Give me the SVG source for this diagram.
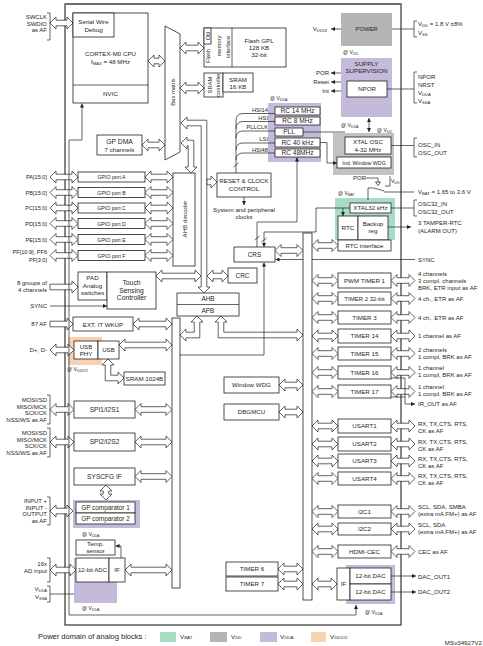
<svg xmlns="http://www.w3.org/2000/svg" width="483" height="646" viewBox="0 0 483 646">
<defs>
<style>
.b{fill:#fff;stroke:#231f20;stroke-width:0.8}
.a{fill:#fff;stroke:#231f20;stroke-width:0.7}
.ln{fill:none;stroke:#231f20;stroke-width:0.7}
.ar{fill:none;stroke:#231f20;stroke-width:0.7;marker-end:url(#ah)}
text{font-family:"Liberation Sans",Arial,sans-serif;fill:#231f20}
.t{font-size:6.2px;text-anchor:middle}
.l{font-size:6px;text-anchor:end}
.e{font-size:6px;text-anchor:start}
.s{font-size:5px}
.g{font-size:5.2px}
.pu{fill:#c4bbdb}
.gr{fill:#b5b5b5}
.gn{fill:#a8dcc5}
.or{fill:#f8d2b0}
</style>
<marker id="ah" viewBox="0 0 6 6" refX="6" refY="3" markerWidth="4" markerHeight="4" markerUnits="userSpaceOnUse" orient="auto"><path d="M0,0L6,3L0,6z" fill="#231f20"/></marker>
</defs>
<rect width="483" height="646" fill="#fff"/>
<rect x="65" y="4" width="336" height="621" fill="none" stroke="#333" stroke-width="1.2"/>
<line x1="65" y1="4" x2="401" y2="4" stroke="#666" stroke-width="1.6"/>

<!-- domain backgrounds -->
<rect class="gr" x="341" y="13" width="51" height="33"/>
<rect class="pu" x="341" y="58" width="51" height="59"/>
<rect class="pu" x="268" y="103" width="53" height="59"/>
<rect class="gr" x="333" y="133" width="61" height="42" style="fill:#c2c2c2"/>
<rect class="gn" x="335" y="198" width="60" height="42"/>
<rect class="or" x="68" y="337" width="34" height="28"/>
<rect class="pu" x="73" y="500" width="67" height="28"/>
<rect class="pu" x="74" y="558" width="43" height="45"/>
<rect class="pu" x="346" y="565" width="49" height="39"/>

<g id="connectors">
<!-- left external arrows -->
<path class="a" d="M50,23 l6,-6 v3.2 h11 v-3.2 l6,6 l-6,6 v-3.2 h-11 v3.2 z"/>
<path class="a" d="M50,177 l6,-6 v3.2 h16 v-3.2 l6,6 l-6,6 v-3.2 h-16 v3.2 z"/>
<path class="a" d="M50,192.5 l6,-6 v3.2 h16 v-3.2 l6,6 l-6,6 v-3.2 h-16 v3.2 z"/>
<path class="a" d="M50,208 l6,-6 v3.2 h16 v-3.2 l6,6 l-6,6 v-3.2 h-16 v3.2 z"/>
<path class="a" d="M50,223.5 l6,-6 v3.2 h16 v-3.2 l6,6 l-6,6 v-3.2 h-16 v3.2 z"/>
<path class="a" d="M50,239.5 l6,-6 v3.2 h16 v-3.2 l6,6 l-6,6 v-3.2 h-16 v3.2 z"/>
<path class="a" d="M50,255.5 l6,-6 v3.2 h16 v-3.2 l6,6 l-6,6 v-3.2 h-16 v3.2 z"/>
<path class="a" d="M50,284.2 h22 v-3.2 l6,6 l-6,6 v-3.2 h-22 z"/>
<path class="ar" d="M50,306 H107"/>
<path class="a" d="M50,321.2 h17 v-3.2 l6,6 l-6,6 v-3.2 h-17 z"/>
<path class="a" d="M50,350 l6,-6 v3.2 h12 v-3.2 l6,6 l-6,6 v-3.2 h-12 v3.2 z"/>
<path class="a" d="M50,409.5 l6,-6 v3.2 h12 v-3.2 l6,6 l-6,6 v-3.2 h-12 v3.2 z"/>
<path class="a" d="M50,442 l6,-6 v3.2 h12 v-3.2 l6,6 l-6,6 v-3.2 h-12 v3.2 z"/>
<path class="a" d="M50,511 l6,-6 v3.2 h11 v-3.2 l6,6 l-6,6 v-3.2 h-11 v3.2 z"/>
<path class="a" d="M50,570 l6,-6 v3.2 h14 v-3.2 l6,6 l-6,6 v-3.2 h-14 v3.2 z"/>
<path class="ln" d="M50,594 H74"/>
<!-- brackets left -->
<path class="ln" d="M47,13 H50 V40 H47"/>
<path class="ln" d="M47,395 H50 V424 H47"/>
<path class="ln" d="M47,428 H50 V457 H47"/>
<path class="ln" d="M47,497 H50 V525 H47"/>
<path class="ln" d="M47,558 H50 V582 H47"/>
<path class="ln" d="M47,586 H50 V602 H47"/>

<!-- CPU / DMA / bus matrix -->
<path class="a" d="M148,61 l6,-6 v3.2 h5 v-3.2 l6,6 l-6,6 v-3.2 h-5 v3.2 z"/>
<path class="a" d="M142,145 l6,-6 v3.2 h11 v-3.2 l6,6 l-6,6 v-3.2 h-11 v3.2 z"/>
<path class="a" d="M180,48 l6,-6 v3.2 h12 v-3.2 l6,6 l-6,6 v-3.2 h-12 v3.2 z"/>
<path class="a" d="M180,88 l6,-6 v3.2 h12 v-3.2 l6,6 l-6,6 v-3.2 h-12 v3.2 z"/>
<path class="a" d="M181,143 L187,137 V140.2 H193.8 V167 H197 L191,173 L185,167 H188.2 V145.8 H187 V149 Z"/>
<path class="a" d="M181,123 L187,117 V120.2 H206.8 V287 H210 L204,293 L198,287 H201.2 V125.8 H187 V129 Z"/>
<path class="a" d="M207,179.2 h4 v-3.2 l6,6 l-6,6 v-3.2 h-4 z"/>
<path class="ln" d="M69,615 V140 H82"/>
<path class="ar" d="M82,140 V103.5"/>

<!-- GPIO to AHB decoder -->
<path class="a" d="M145,177 l6,-6 v3.2 h16 v-3.2 l6,6 l-6,6 v-3.2 h-16 v3.2 z"/>
<path class="a" d="M145,192.5 l6,-6 v3.2 h16 v-3.2 l6,6 l-6,6 v-3.2 h-16 v3.2 z"/>
<path class="a" d="M145,208 l6,-6 v3.2 h16 v-3.2 l6,6 l-6,6 v-3.2 h-16 v3.2 z"/>
<path class="a" d="M145,223.5 l6,-6 v3.2 h16 v-3.2 l6,6 l-6,6 v-3.2 h-16 v3.2 z"/>
<path class="a" d="M145,239.5 l6,-6 v3.2 h16 v-3.2 l6,6 l-6,6 v-3.2 h-16 v3.2 z"/>
<path class="a" d="M145,255.5 l6,-6 v3.2 h16 v-3.2 l6,6 l-6,6 v-3.2 h-16 v3.2 z"/>
<path class="a" d="M156,276 l6,-6 v3.2 h33 v-3.2 l6,6 l-6,6 v-3.2 h-33 v3.2 z"/>
<path class="a" d="M207,276 l6,-6 v3.2 h9 v-3.2 l6,6 l-6,6 v-3.2 h-9 v3.2 z"/>

<!-- APB outputs -->
<path class="a" d="M197,316 L203,322 H199.8 V337.8 H186 V341 L180,335 L186,329 V332.2 H194.2 V322 H191 Z"/>
<path class="a" d="M221,316 L227,322 H223.8 V332.2 H297 V329 L303,335 L297,341 V337.8 H218.2 V322 H215 Z"/>

<!-- left bar arrows -->
<path class="a" d="M133,324 l6,-6 v3.2 h27 v-3.2 l6,6 l-6,6 v-3.2 h-27 v3.2 z"/>
<path class="a" d="M119,345 l6,-6 v3.2 h41 v-3.2 l6,6 l-6,6 v-3.2 h-41 v3.2 z"/>
<path class="a" d="M108,359 L114,365 H110.8 V375.2 H118 V372 L124,378 L118,384 V380.8 H105.2 V365 H102 Z"/>
<path class="a" d="M135,409.5 l6,-6 v3.2 h25 v-3.2 l6,6 l-6,6 v-3.2 h-25 v3.2 z"/>
<path class="a" d="M135,442 l6,-6 v3.2 h25 v-3.2 l6,6 l-6,6 v-3.2 h-25 v3.2 z"/>
<path class="a" d="M135,476.5 l6,-6 v3.2 h25 v-3.2 l6,6 l-6,6 v-3.2 h-25 v3.2 z"/>
<path class="a" d="M106,485 l6,6 h-3.2 v3 h3.2 l-6,6 l-6,-6 h3.2 v-3 h-3.2 z"/>
<path class="a" d="M125,570 l6,-6 v3.2 h35 v-3.2 l6,6 l-6,6 v-3.2 h-35 v3.2 z"/>
<path class="ar" d="M121,558 V546 H115.5"/>

<!-- right bar arrows to central boxes -->
<path class="a" d="M275,250.5 l6,-6 v3.2 h16 v-3.2 l6,6 l-6,6 v-3.2 h-16 v3.2 z"/>
<path class="a" d="M279,385 l6,-6 v3.2 h12 v-3.2 l6,6 l-6,6 v-3.2 h-12 v3.2 z"/>
<path class="a" d="M279,412 l6,-6 v3.2 h12 v-3.2 l6,6 l-6,6 v-3.2 h-12 v3.2 z"/>
<path class="a" d="M278,569 l6,-6 v3.2 h13 v-3.2 l6,6 l-6,6 v-3.2 h-13 v3.2 z"/>
<path class="a" d="M278,584 l6,-6 v3.2 h13 v-3.2 l6,6 l-6,6 v-3.2 h-13 v3.2 z"/>

<!-- right bar to peripherals -->
<path class="a" d="M312,245.5 l6,-6 v3.2 h14 v-3.2 l6,6 l-6,6 v-3.2 h-14 v3.2 z"/>
<path class="a" d="M312,280.5 l6,-6 v3.2 h14 v-3.2 l6,6 l-6,6 v-3.2 h-14 v3.2 z"/>
<path class="a" d="M312,298.5 l6,-6 v3.2 h14 v-3.2 l6,6 l-6,6 v-3.2 h-14 v3.2 z"/>
<path class="a" d="M312,317.5 l6,-6 v3.2 h14 v-3.2 l6,6 l-6,6 v-3.2 h-14 v3.2 z"/>
<path class="a" d="M312,336 l6,-6 v3.2 h14 v-3.2 l6,6 l-6,6 v-3.2 h-14 v3.2 z"/>
<path class="a" d="M312,353.5 l6,-6 v3.2 h14 v-3.2 l6,6 l-6,6 v-3.2 h-14 v3.2 z"/>
<path class="a" d="M312,372.5 l6,-6 v3.2 h14 v-3.2 l6,6 l-6,6 v-3.2 h-14 v3.2 z"/>
<path class="a" d="M312,391.5 l6,-6 v3.2 h14 v-3.2 l6,6 l-6,6 v-3.2 h-14 v3.2 z"/>
<path class="a" d="M312,426 l6,-6 v3.2 h14 v-3.2 l6,6 l-6,6 v-3.2 h-14 v3.2 z"/>
<path class="a" d="M312,444 l6,-6 v3.2 h14 v-3.2 l6,6 l-6,6 v-3.2 h-14 v3.2 z"/>
<path class="a" d="M312,461 l6,-6 v3.2 h14 v-3.2 l6,6 l-6,6 v-3.2 h-14 v3.2 z"/>
<path class="a" d="M312,478.5 l6,-6 v3.2 h14 v-3.2 l6,6 l-6,6 v-3.2 h-14 v3.2 z"/>
<path class="a" d="M312,511.5 l6,-6 v3.2 h14 v-3.2 l6,6 l-6,6 v-3.2 h-14 v3.2 z"/>
<path class="a" d="M312,529 l6,-6 v3.2 h14 v-3.2 l6,6 l-6,6 v-3.2 h-14 v3.2 z"/>
<path class="a" d="M312,551.5 l6,-6 v3.2 h14 v-3.2 l6,6 l-6,6 v-3.2 h-14 v3.2 z"/>
<path class="a" d="M312,584 l6,-6 v3.2 h13 v-3.2 l6,6 l-6,6 v-3.2 h-13 v3.2 z"/>

<!-- peripherals to outside -->
<path class="a" d="M391,280.5 l6,-6 v3.2 h12 v-3.2 l6,6 l-6,6 v-3.2 h-12 v3.2 z"/>
<path class="a" d="M391,298.5 l6,-6 v3.2 h12 v-3.2 l6,6 l-6,6 v-3.2 h-12 v3.2 z"/>
<path class="a" d="M391,317.5 l6,-6 v3.2 h12 v-3.2 l6,6 l-6,6 v-3.2 h-12 v3.2 z"/>
<path class="a" d="M391,336 l6,-6 v3.2 h12 v-3.2 l6,6 l-6,6 v-3.2 h-12 v3.2 z"/>
<path class="a" d="M391,353.5 l6,-6 v3.2 h12 v-3.2 l6,6 l-6,6 v-3.2 h-12 v3.2 z"/>
<path class="a" d="M391,372.5 l6,-6 v3.2 h12 v-3.2 l6,6 l-6,6 v-3.2 h-12 v3.2 z"/>
<path class="a" d="M391,391.5 l6,-6 v3.2 h12 v-3.2 l6,6 l-6,6 v-3.2 h-12 v3.2 z"/>
<path class="a" d="M391,426 l6,-6 v3.2 h12 v-3.2 l6,6 l-6,6 v-3.2 h-12 v3.2 z"/>
<path class="a" d="M391,444 l6,-6 v3.2 h12 v-3.2 l6,6 l-6,6 v-3.2 h-12 v3.2 z"/>
<path class="a" d="M391,461 l6,-6 v3.2 h12 v-3.2 l6,6 l-6,6 v-3.2 h-12 v3.2 z"/>
<path class="a" d="M391,478.5 l6,-6 v3.2 h12 v-3.2 l6,6 l-6,6 v-3.2 h-12 v3.2 z"/>
<path class="a" d="M391,511.5 l6,-6 v3.2 h12 v-3.2 l6,6 l-6,6 v-3.2 h-12 v3.2 z"/>
<path class="a" d="M391,529 l6,-6 v3.2 h12 v-3.2 l6,6 l-6,6 v-3.2 h-12 v3.2 z"/>
<path class="a" d="M391,551.5 l6,-6 v3.2 h12 v-3.2 l6,6 l-6,6 v-3.2 h-12 v3.2 z"/>
<path class="ln" d="M391,378 H405 V404"/>
<path class="ln" d="M391,397 H405"/>
<path class="ar" d="M405,404 H415"/>
<path class="ar" d="M391,576 H416"/>
<path class="ar" d="M391,592 H416"/>
<path class="ln" d="M69,615 H356"/>
<path class="ar" d="M356,615 V605"/>

<!-- power / clocks lines -->
<path class="ar" d="M341,29 H331"/>
<path class="ar" d="M341,73 H331"/>
<path class="ar" d="M341,82 H331"/>
<path class="ar" d="M341,91 H331"/>
<path class="ln" d="M392,29 H414 M417,21 H414 V37 H417"/>
<path class="ln" d="M387,89 H414 M417,72 H414 V103 H417"/>
<path class="ln" d="M391,145.5 H414 M417,138 H414 V157 H417"/>
<path class="ln" d="M391,208 H414 M417,200 H414 V216 H417"/>
<path class="ar" d="M369,125 V118"/>
<path class="ar" d="M369,125 V132"/>
<path class="ln" d="M275,113.5 H243 Q236,113.5 236,121 V173"/>
<path class="ln" d="M275,121.5 H243 Q236,121.5 236,129"/>
<path class="ln" d="M275,131 H243 Q236,131 236,138"/>
<path class="ln" d="M275,143 H243 Q236,143 236,150"/>
<path class="ln" d="M275,153 H243 Q236,153 236,160"/>
<path class="ln" d="M233.5,167 L238.5,163"/>
<path class="ln" d="M303,132 H345"/>
<path class="ln" d="M320,142.5 H327 V163"/>
<path class="ar" d="M327,163 H337"/>
<path class="ar" d="M244,197 V205"/>
<path class="ln" d="M257,247 V222 H297"/>
<path class="ar" d="M297,222 V157.5"/>
<path class="ln" d="M254.5,240 L259.5,236"/>
<path class="ln" d="M350,208 H316 V232 H264"/>
<path class="ar" d="M264,232 V247"/>
<path class="ln" d="M261.5,242 L266.5,238"/>
<path class="ar" d="M343,208 V216"/>
<path class="ar" d="M388,227 H411"/>
<path class="ar" d="M415,259.5 H275.5"/>
<path class="ln" d="M180,355 H264"/>
<path class="ar" d="M264,355 V262.5"/>
<path class="ln" d="M366,178 H378"/>
<path class="ln" d="M378,178 V182"/>
<path class="a" d="M375.5,182 H380.5 L378,185.5 Z"/>
<path class="ln" d="M390,176 V186 H385"/>
<path class="ln" d="M368,200 V188 H374 L384,191"/>
<path class="ln" d="M384,192 H414"/>
</g>

<g id="bus-matrix"><path class="b" d="M165,26 L180,34 V152 L165,160 Z"/><text class="t" style="font-size:5.8px" transform="rotate(-90 174.5 92)" x="174.5" y="92">Bus matrix</text></g>
<g id="ahb-decoder"><rect class="b" x="173" y="173" width="22" height="93"/><text class="t" transform="rotate(-90 186.5 219)" x="186.5" y="219">AHB decoder</text></g>
<g id="left-bar"><rect class="b" x="172" y="318" width="8" height="270"/></g>
<g id="right-bar"><rect class="b" x="303" y="233" width="9" height="367"/></g>

<g id="cpu"><rect class="b" x="73" y="13" width="75" height="90"/><line class="ln" x1="73" y1="85" x2="148" y2="85"/>
<text class="t" x="110.5" y="55.5">CORTEX-M0 CPU</text>
<text class="t" x="110.5" y="63.5">f<tspan font-size="4.2" dy="1">MAX</tspan><tspan dy="-1"> = 48 MHz</tspan></text>
<text class="t" x="110.5" y="96">NVIC</text></g>
<g id="swd"><rect class="b" x="73" y="13" width="41" height="24"/><text class="t" x="93.5" y="24">Serial Wire</text><text class="t" x="93.5" y="31.5">Debug</text></g>
<g id="dma"><rect class="b" x="97" y="135" width="45" height="20"/><text class="t" x="119.5" y="144" style="font-size:6.8px">GP DMA</text><text class="t" x="119.5" y="151.5">7 channels</text></g>

<g id="flash"><rect class="b" x="204" y="28" width="82" height="39"/><line class="ln" x1="232" y1="28" x2="232" y2="67"/><rect class="b" x="204" y="28" width="7" height="16"/>
<text class="t" style="font-size:5.6px" transform="rotate(-90 209.5 36)" x="209.5" y="36">Obl</text>
<text class="t" style="font-size:5.8px" transform="rotate(-90 210 56)" x="210" y="56">Flash</text>
<text class="t" style="font-size:5.8px" transform="rotate(-90 221 46)" x="221" y="46">memory</text>
<text class="t" style="font-size:5.8px" transform="rotate(-90 229.5 47)" x="229.5" y="47">interface</text>
<text class="t" x="259" y="42.5">Flash GPL</text><text class="t" x="259" y="49.5">128 KB</text><text class="t" x="259" y="56.5">32-bit</text></g>
<g id="sram"><rect class="b" x="204" y="73" width="19" height="24"/><rect class="b" x="223" y="73" width="30" height="19"/>
<text class="t" style="font-size:5.8px" transform="rotate(-90 212 85)" x="212" y="85">SRAM</text><text class="t" style="font-size:5.8px" transform="rotate(-90 220 85)" x="220" y="85">controller</text>
<text class="t" x="238" y="81.5">SRAM</text><text class="t" x="238" y="88.5">16 KB</text></g>

<g id="power"><text class="t" x="366.5" y="31" style="font-size:5.8px">POWER</text>
<text class="l" x="327" y="31">V<tspan font-size="4" dy="1">DD18</tspan></text>
<text class="s" x="343" y="54">@ V<tspan font-size="3.6" dy="0.8">DD</tspan></text>
<text class="e" x="418" y="26">V<tspan font-size="4.2" dy="1">DD</tspan><tspan dy="-1"> = 1.8 V ±8%</tspan></text>
<text class="e" x="418" y="35">V<tspan font-size="4.2" dy="1">SS</tspan></text></g>

<g id="supply"><text class="t" x="366.5" y="65.5">SUPPLY</text><text class="t" x="366.5" y="73">SUPERVISION</text>
<rect class="b" x="347" y="81" width="40" height="16"/><text class="t" x="367" y="91.2">NPOR</text>
<text class="l" x="329" y="75">POR</text><text class="l" x="329" y="84">Reset</text><text class="l" x="329" y="93">Int</text>
<text class="e" x="418" y="79">NPOR</text><text class="e" x="418" y="87">NRST</text>
<text class="e" x="418" y="95">V<tspan font-size="4.2" dy="1">DDA</tspan></text>
<text class="e" x="418" y="103">V<tspan font-size="4.2" dy="1">SSA</tspan></text>
<text class="s" x="341" y="127">@ V<tspan font-size="3.6" dy="0.8">DDA</tspan></text>
<text class="s" x="377" y="132">@ V<tspan font-size="3.6" dy="0.8">DD</tspan></text></g>

<g id="rc-osc"><text class="s" x="270" y="100">@ V<tspan font-size="3.6" dy="0.8">DDA</tspan></text>
<rect class="b" x="275" y="107" width="45" height="8"/><text class="t" x="297.5" y="113.3" style="font-size:6.6px">RC 14 MHz</text>
<rect class="b" x="275" y="117" width="45" height="8"/><text class="t" x="297.5" y="123.3" style="font-size:6.6px">RC 8 MHz</text>
<rect class="b" x="275" y="128" width="28" height="8"/><text class="t" x="289" y="134.3" style="font-size:6.6px">PLL</text>
<rect class="b" x="275" y="138" width="45" height="9"/><text class="t" x="297.5" y="144.8" style="font-size:6.6px">RC 40 kHz</text>
<rect class="b" x="275" y="149" width="45" height="8"/><text class="t" x="297.5" y="155.3" style="font-size:6.6px">RC 48MHz</text>
<text class="l" style="font-size:5.8px" x="268" y="111.5">HSI14</text><text class="l" style="font-size:5.8px" x="268" y="119.5">HSI</text><text class="l" style="font-size:5.8px" x="268" y="129">PLLCLK</text><text class="l" style="font-size:5.8px" x="268" y="140.5">LSI</text><text class="l" style="font-size:5.8px" x="268" y="151.5">HSI48</text></g>

<g id="xtal"><rect class="b" x="345" y="137" width="46" height="17"/><text class="t" x="368" y="144">XTAL OSC</text><text class="t" x="368" y="151.5">4-32 MHz</text>
<rect class="b" x="337" y="157" width="54" height="11"/><text class="t" x="364" y="164.5" style="font-size:5.3px">Ind. Window WDG</text>
<text class="e" x="418" y="147">OSC_IN</text><text class="e" x="418" y="155">OSC_OUT</text></g>

<g id="rcc"><rect class="b" x="217" y="173" width="54" height="24"/><text class="t" x="244" y="183">RESET &amp; CLOCK</text><text class="t" x="244" y="190.5">CONTROL</text>
<text class="t" x="244" y="212">System and peripheral</text><text class="t" x="244" y="219">clocks</text></g>

<g id="rtc"><text class="l" x="366" y="180">POR</text><text class="s" x="391" y="183">V<tspan font-size="3.6" dy="0.8">DD</tspan></text>
<text class="s" x="338" y="195">@ V<tspan font-size="3.6" dy="0.8">BAT</tspan></text>
<text class="e" x="418" y="194">V<tspan font-size="4.2" dy="1">BAT</tspan><tspan dy="-1"> = 1.65 to 3.6 V</tspan></text>
<rect class="b" x="350" y="203" width="41" height="10"/><text class="t" x="370.5" y="210.2">XTAL32 kHz</text>
<rect class="b" x="338" y="216" width="20" height="24"/><text class="t" x="348" y="230">RTC</text>
<rect class="b" x="358" y="216" width="30" height="24"/><text class="t" x="373" y="225.5">Backup</text><text class="t" x="373" y="233">reg</text>
<rect class="b" x="338" y="240" width="53" height="11"/><text class="t" x="364.5" y="247.7">RTC interface</text>
<text class="e" x="418" y="206">OSC32_IN</text><text class="e" x="418" y="214">OSC32_OUT</text>
<text class="e" x="418" y="225">3 TAMPER-RTC</text><text class="e" x="418" y="233">(ALARM OUT)</text>
<text class="e" x="418" y="261.5">SYNC</text></g>

<g id="crs"><rect class="b" x="234" y="247" width="41" height="15"/><text class="t" x="254.5" y="256.7" style="font-size:6.4px">CRS</text></g>
<g id="crc"><rect class="b" x="228" y="268" width="29" height="15"/><text class="t" x="242.5" y="277.7" style="font-size:6.4px">CRC</text></g>
<g id="ahb-apb"><rect class="b" x="177" y="293" width="62" height="23"/><line class="ln" x1="177" y1="304.5" x2="239" y2="304.5"/><text class="t" x="208" y="301.2" style="font-size:6.4px">AHB</text><text class="t" x="208" y="312.7" style="font-size:6.4px">APB</text></g>

<g id="gpio"><rect class="b" x="78" y="172" width="67" height="10"/><text class="t g" x="111.5" y="179">GPIO port A</text>
<rect class="b" x="78" y="187.5" width="67" height="10"/><text class="t g" x="111.5" y="194.5">GPIO port B</text>
<rect class="b" x="78" y="203" width="67" height="10"/><text class="t g" x="111.5" y="210">GPIO port C</text>
<rect class="b" x="78" y="218.5" width="67" height="10"/><text class="t g" x="111.5" y="225.5">GPIO port D</text>
<rect class="b" x="78" y="234.5" width="67" height="10"/><text class="t g" x="111.5" y="241.5">GPIO port E</text>
<rect class="b" x="78" y="250.5" width="67" height="10"/><text class="t g" x="111.5" y="257.5">GPIO port F</text>
<text class="l" style="font-size:5.6px" x="47" y="179">PA[15:0]</text><text class="l" style="font-size:5.6px" x="47" y="194.5">PB[15:0]</text><text class="l" style="font-size:5.6px" x="47" y="210">PC[15:0]</text><text class="l" style="font-size:5.6px" x="47" y="225.5">PD[15:0]</text><text class="l" style="font-size:5.6px" x="47" y="241.5">PE[15:0]</text><text class="l" style="font-size:5.6px" x="47" y="254">PF[10:9], PF6</text><text class="l" style="font-size:5.6px" x="47" y="261.5">PF[3:0]</text>
<text class="l" x="47" y="19">SWCLK</text><text class="l" x="47" y="25.5">SWDIO</text><text class="l" x="47" y="32">as AF</text></g>

<g id="tsc"><rect class="b" x="78" y="272" width="29" height="28"/><text class="t" x="92.5" y="280">PAD</text><text class="t" x="92.5" y="287.5">Analog</text><text class="t" x="92.5" y="295">switches</text>
<rect class="b" x="107" y="272" width="49" height="37"/><text class="t" style="font-size:6.8px" x="131.5" y="285">Touch</text><text class="t" style="font-size:6.8px" x="131.5" y="292.5">Sensing</text><text class="t" style="font-size:6.8px" x="131.5" y="300">Controller</text>
<text class="l" x="47" y="285">8 groups of</text><text class="l" x="47" y="292">4 channels</text><text class="l" x="47" y="308">SYNC</text></g>

<g id="exti"><rect class="b" x="73" y="317" width="60" height="14"/><text class="t" x="103" y="326.5">EXT. IT  WKUP</text><text class="l" x="47" y="326.2">87 AF</text></g>
<g id="usb"><rect class="b" x="74" y="341" width="24" height="18"/><text class="t" x="86" y="348.5">USB</text><text class="t" x="86" y="356">PHY</text>
<rect class="b" x="98" y="341" width="21" height="18"/><text class="t" x="108.5" y="352.2">USB</text>
<text class="s" x="67" y="371">@ V<tspan font-size="3.6" dy="0.8">DDIO2</tspan></text>
<text class="l" x="47" y="352">D+, D-</text>
<rect class="b" x="124" y="372" width="41" height="13"/><text class="t" x="144.5" y="380.7">SRAM 1024B</text></g>

<g id="spi"><rect class="b" x="74" y="401" width="61" height="17"/><text class="t" style="font-size:6.6px" x="104.5" y="411.8">SPI1/I2S1</text>
<rect class="b" x="74" y="433" width="61" height="18"/><text class="t" style="font-size:6.6px" x="104.5" y="444.3">SPI2/I2S2</text>
<text class="l" x="47" y="402">MOSI/SD</text><text class="l" x="47" y="408.5">MISO/MCK</text><text class="l" x="47" y="415">SCK/CK</text><text class="l" x="47" y="421.5">NSS/WS as AF</text>
<text class="l" x="47" y="435">MOSI/SD</text><text class="l" x="47" y="441.5">MISO/MCK</text><text class="l" x="47" y="448">SCK/CK</text><text class="l" x="47" y="454.5">NSS/WS as AF</text></g>
<g id="syscfg"><rect class="b" x="74" y="468" width="61" height="17"/><text class="t" style="font-size:6.6px" x="104.5" y="478.8">SYSCFG IF</text></g>
<g id="comp"><rect class="b" x="76" y="502" width="59" height="11"/><text class="t" style="font-size:6.4px" x="105.5" y="509.7">GP comparator 1</text>
<rect class="b" x="76" y="513" width="59" height="11"/><text class="t" style="font-size:6.4px" x="105.5" y="520.7">GP comparator 2</text>
<text class="s" x="82" y="536">@ V<tspan font-size="3.6" dy="0.8">DDA</tspan></text>
<text class="l" x="47" y="503">INPUT +</text><text class="l" x="47" y="509.5">INPUT -</text><text class="l" x="47" y="516">OUTPUT</text><text class="l" x="47" y="522.5">as AF</text></g>
<g id="adc"><rect class="b" x="76" y="540" width="39" height="15"/><text class="t" x="95.5" y="546.3">Temp.</text><text class="t" x="95.5" y="553.3">sensor</text>
<rect class="b" x="76" y="558" width="33" height="24"/><text class="t" style="font-size:6px" x="92.5" y="572">12-bit ADC</text>
<rect class="b" x="109" y="558" width="16" height="24"/><text class="t" x="117" y="572.2">IF</text>
<text class="s" x="82" y="610">@ V<tspan font-size="3.6" dy="0.8">DDA</tspan></text>
<text class="l" x="47" y="566">16x</text><text class="l" x="47" y="573">AD input</text>
<text class="l" x="47" y="591">V<tspan font-size="4" dy="1">DDA</tspan></text><text class="l" x="47" y="599">V<tspan font-size="4" dy="1">SSA</tspan></text></g>

<g id="wdg"><rect class="b" x="224" y="377" width="55" height="16"/><text class="t" x="251.5" y="387.2">Window WDG</text>
<rect class="b" x="224" y="404" width="55" height="16"/><text class="t" x="251.5" y="414.2">DBGMCU</text></g>
<g id="tim67"><rect class="b" x="226" y="562" width="52" height="14"/><text class="t" x="252" y="571.2">TIMER 6</text>
<rect class="b" x="226" y="577" width="52" height="14"/><text class="t" x="252" y="586.2">TIMER 7</text></g>

<g id="timers"><rect class="b" x="338" y="273" width="53" height="15"/><text class="t" x="364.5" y="282.7">PWM TIMER 1</text>
<rect class="b" x="338" y="292" width="53" height="13"/><text class="t" style="font-size:6px" x="364.5" y="300.7">TIMER 2 32-bit</text>
<rect class="b" x="338" y="311" width="53" height="13"/><text class="t" x="364.5" y="319.7">TIMER 3</text>
<rect class="b" x="338" y="329" width="53" height="14"/><text class="t" x="364.5" y="338.2">TIMER 14</text>
<rect class="b" x="338" y="347" width="53" height="13"/><text class="t" x="364.5" y="355.7">TIMER 15</text>
<rect class="b" x="338" y="366" width="53" height="13"/><text class="t" x="364.5" y="374.7">TIMER 16</text>
<rect class="b" x="338" y="385" width="53" height="13"/><text class="t" x="364.5" y="393.7">TIMER 17</text>
<text class="e" x="418" y="276">4 channels</text><text class="e" x="418" y="283">3 compl. channels</text><text class="e" x="418" y="290">BRK, ETR input as AF</text>
<text class="e" x="418" y="300.5">4 ch., ETR as AF</text><text class="e" x="418" y="319.5">4 ch., ETR as AF</text>
<text class="e" x="418" y="338">1 channel as AF</text>
<text class="e" x="418" y="352">2 channels</text><text class="e" x="418" y="359">1 compl, BRK as AF</text>
<text class="e" x="418" y="370">1 channel</text><text class="e" x="418" y="377">1 compl, BRK as AF</text>
<text class="e" x="418" y="389">1 channel</text><text class="e" x="418" y="396">1 compl, BRK as AF</text>
<text class="e" x="418" y="406">IR_OUT as AF</text></g>

<g id="usarts"><rect class="b" x="338" y="419" width="53" height="14"/><text class="t" x="364.5" y="428.2">USART1</text>
<rect class="b" x="338" y="437" width="53" height="14"/><text class="t" x="364.5" y="446.2">USART2</text>
<rect class="b" x="338" y="454" width="53" height="14"/><text class="t" x="364.5" y="463.2">USART3</text>
<rect class="b" x="338" y="472" width="53" height="13"/><text class="t" x="364.5" y="480.7">USART4</text>
<text class="e" x="418" y="426">RX, TX,CTS, RTS,</text><text class="e" x="418" y="433">CK as AF</text>
<text class="e" x="418" y="444">RX, TX,CTS, RTS,</text><text class="e" x="418" y="451">CK as AF</text>
<text class="e" x="418" y="461">RX, TX,CTS, RTS,</text><text class="e" x="418" y="468">CK as AF</text>
<text class="e" x="418" y="478">RX, TX,CTS, RTS,</text><text class="e" x="418" y="485">CK as AF</text></g>

<g id="i2c"><rect class="b" x="338" y="505" width="53" height="13"/><text class="t" x="364.5" y="513.7">I2C1</text>
<rect class="b" x="338" y="523" width="53" height="12"/><text class="t" x="364.5" y="531.2">I2C2</text>
<rect class="b" x="338" y="545" width="53" height="13"/><text class="t" x="364.5" y="553.7">HDMI-CEC</text>
<text class="e" x="418" y="509">SCL, SDA, SMBA</text><text class="e" x="418" y="516">(extra mA FM+) as AF</text>
<text class="e" x="418" y="527">SCL, SDA</text><text class="e" x="418" y="534">(extra mA FM+) as AF</text>
<text class="e" x="418" y="554">CEC as AF</text></g>

<g id="dac"><rect class="b" x="337" y="568" width="13" height="32"/><text class="t" x="343.5" y="586.2">IF</text>
<rect class="b" x="350" y="568" width="41" height="16"/><text class="t" x="370.5" y="578.2">12-bit  DAC</text>
<rect class="b" x="350" y="584" width="41" height="16"/><text class="t" x="370.5" y="594.2">12-bit DAC</text>
<text class="e" x="418" y="579">DAC_OUT1</text><text class="e" x="418" y="594">DAC_OUT2</text>
<text class="s" x="365" y="614">@ V<tspan font-size="3.6" dy="0.8">DDA</tspan></text></g>

<g id="legend"><text x="38" y="638.5" style="font-size:7.5px">Power domain of analog blocks :</text>
<rect class="gn" x="160" y="632" width="16" height="10"/><text x="180" y="638.5" style="font-size:6.2px">V<tspan font-size="4.4" dy="0.8">BAT</tspan></text>
<rect class="gr" x="210" y="632" width="17" height="10"/><text x="231" y="638.5" style="font-size:6.2px">V<tspan font-size="4.4" dy="0.8">DD</tspan></text>
<rect class="pu" x="260" y="632" width="17" height="10"/><text x="280" y="638.5" style="font-size:6.2px">V<tspan font-size="4.4" dy="0.8">DDA</tspan></text>
<rect class="or" x="311" y="632" width="15" height="10"/><text x="330" y="638.5" style="font-size:6.2px">V<tspan font-size="4.4" dy="0.8">DDIO2</tspan></text>
<text x="482" y="645" style="font-size:6.2px;text-anchor:end">MSv34927V2</text></g>
</svg>
